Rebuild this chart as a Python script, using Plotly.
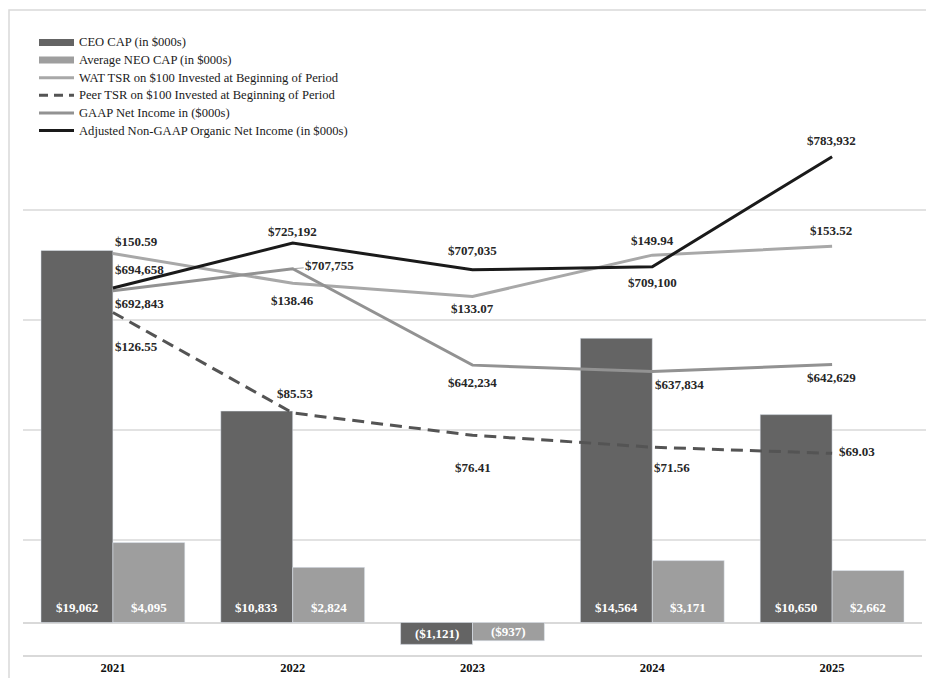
import plotly.graph_objects as go

# ---------------- data ----------------
years = ["2021", "2022", "2023", "2024", "2025"]
ceo_cap = [19062, 10833, -1121, 14564, 10650]          # $000s
neo_cap = [4095, 2824, -937, 3171, 2662]               # $000s
wat_tsr = [150.59, 138.46, 133.07, 149.94, 153.52]
peer_tsr = [126.55, 85.53, 76.41, 71.56, 69.03]
gaap_ni = [692843, 707755, 642234, 637834, 642629]     # $000s
adj_ni = [694658, 725192, 707035, 709100, 783932]      # $000s

names = {
    "ceo": "CEO CAP (in $000s)",
    "neo": "Average NEO CAP (in $000s)",
    "wat": "WAT TSR on $100 Invested at Beginning of Period",
    "peer": "Peer TSR on $100 Invested at Beginning of Period",
    "gaap": "GAAP Net Income in ($000s)",
    "adj": "Adjusted Non-GAAP Organic Net Income (in $000s)",
}

# ---------------- style ----------------
FONT = "Liberation Serif, Times New Roman, serif"
C_CEO, C_NEO = "#646464", "#9e9e9e"
C_WAT, C_PEER, C_GAAP, C_ADJ = "#a8a8a8", "#545454", "#929292", "#1a1a1a"
GRID = "#d9d9d9"
TXT = "#262626"
PEER_DASH = "12px,7px"

# label offsets (dx, dy) in pixels relative to the point (dy > 0 means below)
off_wat = [(24, -12), (0, 17), (0, 12), (0, -15), (-1, -16)]
off_peer = [(24, 34), (2, -19), (0, 32), (20, 20), (25, -2)]
off_gaap = [(27, 13), (37, -3), (0, 17), (27, 13), (-1, 13)]
off_adj = [(27, -19), (0, -12), (0, -19), (0, 16), (-1, -16)]


def fmt_k(v):
    return f"${v:,.0f}" if v >= 0 else f"(${-v:,.0f})"


def fmt_tsr(v):
    return f"${v:,.2f}"


fig = go.Figure()

fig.add_trace(go.Bar(x=years, y=ceo_cap, name=names["ceo"], marker_color=C_CEO))
fig.add_trace(go.Bar(x=years, y=neo_cap, name=names["neo"], marker_color=C_NEO))
fig.add_trace(go.Scatter(x=years, y=wat_tsr, name=names["wat"], yaxis="y2",
                         mode="lines", line=dict(color=C_WAT, width=3)))
fig.add_trace(go.Scatter(x=years, y=peer_tsr, name=names["peer"], yaxis="y2",
                         mode="lines", line=dict(color=C_PEER, width=3, dash=PEER_DASH)))
fig.add_trace(go.Scatter(x=years, y=gaap_ni, name=names["gaap"], yaxis="y3",
                         mode="lines", line=dict(color=C_GAAP, width=3)))
fig.add_trace(go.Scatter(x=years, y=adj_ni, name=names["adj"], yaxis="y3",
                         mode="lines", line=dict(color=C_ADJ, width=3)))

label_font = dict(family=FONT, size=13, color=TXT, weight="bold")
bar_font = dict(family=FONT, size=13, color="white", weight="bold")

annotations = []
# bar value labels (x given as category index)
for vals, sign in ((ceo_cap, -1), (neo_cap, 1)):
    for i, v in enumerate(vals):
        annotations.append(dict(
            x=i, y=0 if v >= 0 else v / 2, xref="x", yref="y",
            text=fmt_k(v), showarrow=False, font=bar_font,
            xshift=sign * 36, yshift=15 if v >= 0 else 0))

# line value labels
for vals, offs, yref, fmt in ((wat_tsr, off_wat, "y2", fmt_tsr),
                              (peer_tsr, off_peer, "y2", fmt_tsr),
                              (adj_ni, off_adj, "y3", fmt_k)):
    for i, (v, (dx, dy)) in enumerate(zip(vals, offs)):
        annotations.append(dict(x=i, y=v, xref="x", yref=yref, text=fmt(v),
                                showarrow=False, font=label_font,
                                xshift=dx, yshift=-dy))
for i, (v, (dx, dy)) in enumerate(zip(gaap_ni, off_gaap)):
    if i == 1:
        annotations.append(dict(x=i, y=v, xref="x", yref="y3", text=fmt_k(v),
                                showarrow=True, arrowhead=0, arrowwidth=1,
                                arrowcolor="#a0a0a0", ax=dx, ay=dy, standoff=1,
                                font=label_font))
    else:
        annotations.append(dict(x=i, y=v, xref="x", yref="y3", text=fmt_k(v),
                                showarrow=False, font=label_font,
                                xshift=dx, yshift=-dy))

# plot area geometry (pixels)
L, R, T, B = 23, 4, 10, 23
W, H = 926, 678
PH = H - T - B
PW = W - L - R
bottom_px = H - B


def py(px):
    return (bottom_px - px) / PH


def pxx(px):
    return (px - L) / PW


shapes = []
for gp in (210, 320, 430, 540):
    shapes.append(dict(type="line", xref="paper", yref="paper", x0=0, x1=1.01,
                       y0=py(gp), y1=py(gp), line=dict(color=GRID, width=1.3),
                       layer="below"))
# outer frame
shapes.append(dict(type="rect", xref="paper", yref="paper",
                   x0=pxx(9), x1=1.02, y0=-0.06, y1=py(10),
                   line=dict(color=GRID, width=1.5), fillcolor="rgba(0,0,0,0)",
                   layer="below"))

# legend (drawn manually to match the original spacing and swatches)
legend_items = [
    ("ceo", C_CEO, "bar", None),
    ("neo", C_NEO, "bar", None),
    ("wat", C_WAT, "line", None),
    ("peer", C_PEER, "line", "9px,6px"),
    ("gaap", C_GAAP, "line", None),
    ("adj", C_ADJ, "line", None),
]
LEG_X0, LEG_X1, LEG_TX, LEG_Y0, LEG_DY = 39, 74, 77, 42.5, 17.6
for k, (key, col, kind, dash) in enumerate(legend_items):
    yc = LEG_Y0 + k * LEG_DY
    if kind == "bar":
        shapes.append(dict(type="rect", xref="paper", yref="paper",
                           x0=pxx(LEG_X0), x1=pxx(LEG_X1),
                           y0=py(yc + 3.5), y1=py(yc - 3.5),
                           fillcolor=col, line=dict(width=0)))
    else:
        ln = dict(color=col, width=3)
        if dash:
            ln["dash"] = dash
        shapes.append(dict(type="line", xref="paper", yref="paper",
                           x0=pxx(LEG_X0), x1=pxx(LEG_X1), y0=py(yc), y1=py(yc),
                           line=ln))
    annotations.append(dict(xref="paper", yref="paper", x=pxx(LEG_TX), y=py(yc),
                            xanchor="left", yanchor="middle", text=names[key],
                            showarrow=False,
                            font=dict(family=FONT, size=12.6, color="#1a1a1a")))

fig.update_layout(
    width=W, height=H,
    margin=dict(l=L, r=R, t=T, b=B, pad=0),
    paper_bgcolor="white", plot_bgcolor="white",
    barmode="group", bargap=0.2, bargroupgap=0,
    font=dict(family=FONT, color=TXT),
    showlegend=False,
    xaxis=dict(type="category", range=[-0.5, 4.5], showgrid=False, ticks="",
               showline=True, linecolor=GRID, linewidth=1.5,
               tickfont=dict(family=FONT, size=12.5, color="#111111", weight="bold")),
    yaxis=dict(range=[-1665, 31378], showgrid=False, showticklabels=False,
               ticks="", showline=False, zeroline=True, zerolinecolor=GRID,
               zerolinewidth=1.5, fixedrange=True),
    yaxis2=dict(range=[-13.27, 250.0], overlaying="y", anchor="x", visible=False),
    yaxis3=dict(range=[445220, 883610], overlaying="y", anchor="x", visible=False),
    annotations=annotations,
    shapes=shapes,
)

fig.write_html("out.html")
